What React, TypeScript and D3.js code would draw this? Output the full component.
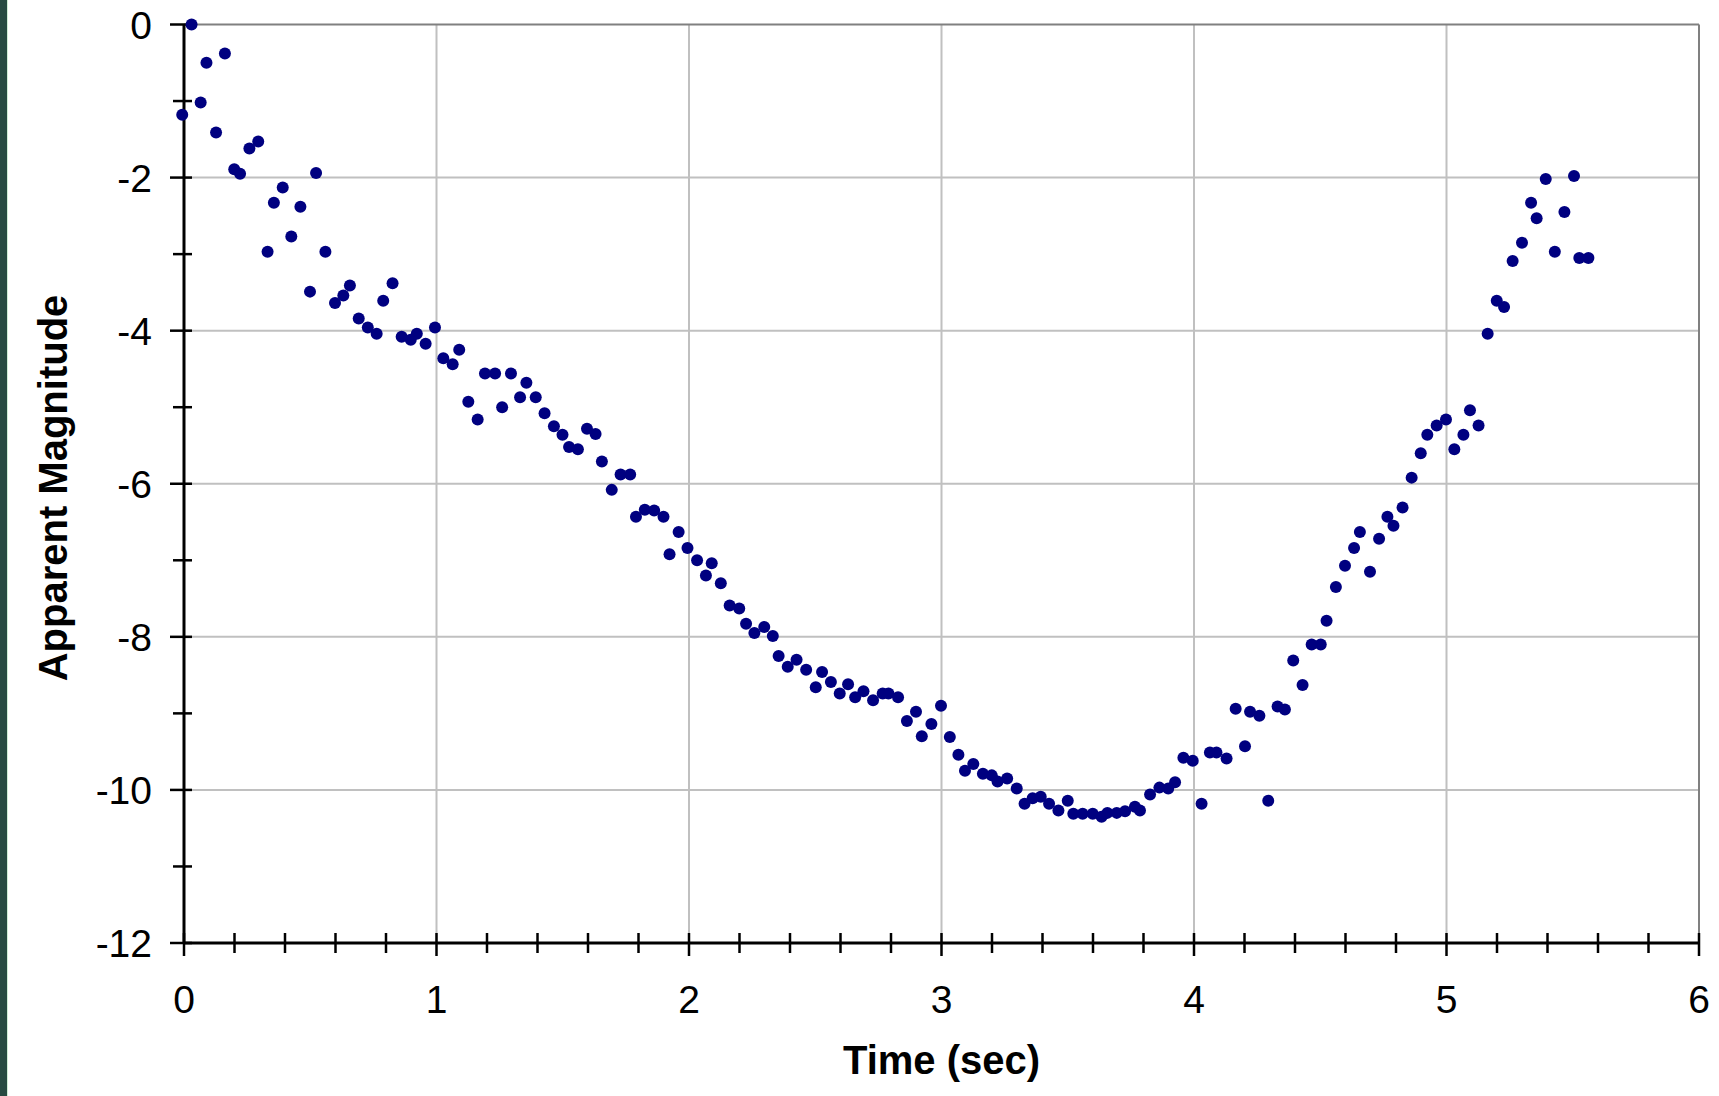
import React from "react"
import * as d3 from "d3"

// time (sec) and apparent magnitude
const times = [
  -0.007, 0.03, 0.066, 0.089, 0.127, 0.162, 0.199, 0.222, 0.259, 0.294,
  0.331, 0.356, 0.391, 0.425, 0.461, 0.499, 0.523, 0.56, 0.598, 0.631,
  0.657, 0.692, 0.728, 0.763, 0.789, 0.826, 0.862, 0.898, 0.922, 0.957,
  0.994, 1.027, 1.064, 1.09, 1.126, 1.163, 1.192, 1.232, 1.26, 1.295,
  1.331, 1.356, 1.393, 1.428, 1.465, 1.499, 1.525, 1.56, 1.596, 1.63,
  1.655, 1.694, 1.729, 1.767, 1.79, 1.825, 1.862, 1.899, 1.923, 1.959,
  1.994, 2.032, 2.067, 2.09, 2.126, 2.161, 2.199, 2.226, 2.259, 2.298,
  2.332, 2.355, 2.391, 2.426, 2.464, 2.502, 2.527, 2.562, 2.597, 2.63,
  2.658, 2.691, 2.729, 2.767, 2.79, 2.828, 2.863, 2.899, 2.922, 2.96,
  2.998, 3.033, 3.067, 3.093, 3.126, 3.164, 3.199, 3.222, 3.26, 3.298,
  3.329, 3.361, 3.393, 3.426, 3.463, 3.5, 3.522, 3.559, 3.599, 3.634,
  3.657, 3.694, 3.727, 3.766, 3.786, 3.826, 3.863, 3.898, 3.925, 3.958,
  3.995, 4.03, 4.063, 4.089, 4.129, 4.165, 4.202, 4.222, 4.259, 4.294,
  4.331, 4.36, 4.393, 4.43, 4.466, 4.502, 4.525, 4.562, 4.598, 4.634,
  4.657, 4.697, 4.733, 4.766, 4.79, 4.826, 4.862, 4.898, 4.924, 4.961,
  4.998, 5.031, 5.067, 5.093, 5.127, 5.163, 5.199, 5.228, 5.262, 5.299,
  5.335, 5.357, 5.393, 5.429, 5.467, 5.505, 5.526, 5.562,
]
const mags = [
  -1.18, 0.0, -1.02, -0.5, -1.41, -0.38, -1.89, -1.95, -1.62, -1.53,
  -2.97, -2.33, -2.13, -2.77, -2.38, -3.49, -1.94, -2.97, -3.64, -3.54,
  -3.41, -3.84, -3.96, -4.04, -3.61, -3.38, -4.08, -4.12, -4.04, -4.17,
  -3.96, -4.36, -4.44, -4.25, -4.93, -5.16, -4.56, -4.56, -5.0, -4.56,
  -4.87, -4.68, -4.87, -5.08, -5.25, -5.36, -5.52, -5.55, -5.28, -5.35,
  -5.71, -6.08, -5.88, -5.88, -6.43, -6.34, -6.35, -6.43, -6.92, -6.63,
  -6.84, -7.0, -7.2, -7.04, -7.3, -7.59, -7.63, -7.83, -7.95, -7.87,
  -7.99, -8.25, -8.39, -8.3, -8.43, -8.66, -8.46, -8.59, -8.74, -8.62,
  -8.79, -8.71, -8.83, -8.74, -8.74, -8.79, -9.1, -8.98, -9.3, -9.14,
  -8.9, -9.31, -9.54, -9.75, -9.66, -9.79, -9.81, -9.89, -9.85, -9.98,
  -10.18, -10.11, -10.09, -10.18, -10.27, -10.14, -10.31, -10.31, -10.31, -10.35,
  -10.3, -10.3, -10.28, -10.22, -10.27, -10.06, -9.97, -9.98, -9.9, -9.58,
  -9.62, -10.18, -9.51, -9.51, -9.59, -8.94, -9.43, -8.98, -9.03, -10.14,
  -8.91, -8.95, -8.31, -8.63, -8.1, -8.1, -7.79, -7.35, -7.07, -6.84,
  -6.63, -7.15, -6.72, -6.43, -6.55, -6.31, -5.92, -5.6, -5.36, -5.24,
  -5.16, -5.55, -5.36, -5.04, -5.24, -4.04, -3.61, -3.69, -3.09, -2.85,
  -2.33, -2.53, -2.02, -2.97, -2.45, -1.98, -3.05, -3.05,
]

const xTicks = [0, 1, 2, 3, 4, 5, 6]
const yTicks = [0, -2, -4, -6, -8, -10, -12]

const W = 1719
const H = 1096
const font = "'Liberation Sans', Arial, sans-serif"

export default function App() {
  const x = d3.scaleLinear().domain([0, 6]).range([184, 1699])
  const y = d3.scaleLinear().domain([0, -12]).range([24.5, 943])
  const minorX = d3.range(0, 30).map((i) => i / 5).filter((v) => !xTicks.includes(v))
  const minorY = d3.range(-11, 0, 2)
  const pts = times.map((t, i) => ({ t, m: mags[i] }))

  return (
    <div style={{ position: "fixed", left: 0, top: 0, width: W, height: H, background: "#fff" }}>
      <svg width={W} height={H} style={{ display: "block" }}>
        <rect x={0} y={0} width={W} height={H} fill="#fff" />
        {/* window edge on the left */}
        <rect x={0} y={0} width={7} height={H} fill="#284a42" />
        <rect x={7} y={0} width={1} height={H} fill="#cfeed6" />

        {/* grid */}
        {xTicks.slice(1, -1).map((v) => (
          <line key={"gx" + v} x1={x(v)} x2={x(v)} y1={y(0)} y2={y(-12)} stroke="#c0c0c0" strokeWidth={2} />
        ))}
        {yTicks.slice(1, -1).map((v) => (
          <line key={"gy" + v} x1={x(0)} x2={x(6)} y1={y(v)} y2={y(v)} stroke="#c0c0c0" strokeWidth={2} />
        ))}
        <line x1={x(0)} x2={x(6)} y1={y(0)} y2={y(0)} stroke="#808080" strokeWidth={2} />
        <line x1={x(6)} x2={x(6)} y1={y(0)} y2={y(-12)} stroke="#808080" strokeWidth={2} />

        {/* axes */}
        <line x1={x(0)} x2={x(0)} y1={y(0)} y2={y(-12)} stroke="#000" strokeWidth={3} />
        <line x1={x(0)} x2={x(6)} y1={y(-12)} y2={y(-12)} stroke="#000" strokeWidth={3} />
        {yTicks.map((v) => (
          <line key={"ty" + v} x1={x(0) - 14} x2={x(0) + 8} y1={y(v)} y2={y(v)} stroke="#000" strokeWidth={2.5} />
        ))}
        {minorY.map((v) => (
          <line key={"my" + v} x1={x(0) - 11} x2={x(0) + 8} y1={y(v)} y2={y(v)} stroke="#000" strokeWidth={2.5} />
        ))}
        {xTicks.map((v) => (
          <line key={"tx" + v} x1={x(v)} x2={x(v)} y1={y(-12) - 10} y2={y(-12) + 13} stroke="#000" strokeWidth={2.5} />
        ))}
        {minorX.map((v) => (
          <line key={"mx" + v} x1={x(v)} x2={x(v)} y1={y(-12) - 10} y2={y(-12) + 10} stroke="#000" strokeWidth={2.5} />
        ))}

        {/* tick labels */}
        {yTicks.map((v) => (
          <text key={"ly" + v} x={152} y={y(v) + 14} textAnchor="end" fontFamily={font} fontSize={39} fill="#000">
            {v}
          </text>
        ))}
        {xTicks.map((v) => (
          <text key={"lx" + v} x={x(v)} y={1013} textAnchor="middle" fontFamily={font} fontSize={39} fill="#000">
            {v}
          </text>
        ))}

        {/* titles */}
        <text x={941.5} y={1074} textAnchor="middle" fontFamily={font} fontSize={40} fontWeight="bold" fill="#000">
          Time (sec)
        </text>
        <text
          transform="translate(67,488) rotate(-90)"
          textAnchor="middle"
          fontFamily={font}
          fontSize={40}
          fontWeight="bold"
          fill="#000"
        >
          Apparent Magnitude
        </text>

        {/* data */}
        {pts.map((p, i) => (
          <circle key={i} cx={x(p.t)} cy={y(p.m)} r={6} fill="#000080" />
        ))}
      </svg>
    </div>
  )
}
